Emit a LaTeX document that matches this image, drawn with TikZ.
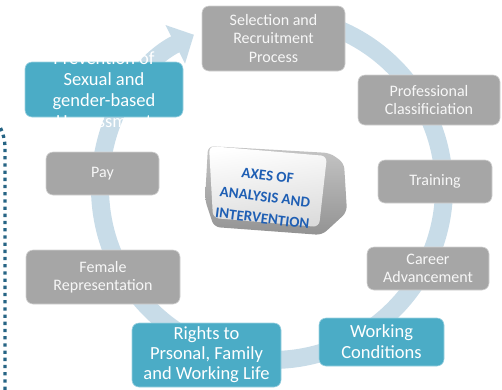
\documentclass[tikz,border=0pt]{standalone}
\usepackage{fontspec}
\setmainfont{Carlito}
\usetikzlibrary{arrows.meta,calc}
\definecolor{boxgray}{RGB}{166,166,166}
\definecolor{boxblue}{RGB}{75,172,198}
\definecolor{ringblue}{RGB}{200,220,232}
\definecolor{keyblue}{RGB}{31,95,180}
\definecolor{dotblue}{RGB}{38,100,132}
\begin{document}
\begin{tikzpicture}[x=1pt,y=-1pt,
  graybox/.style={fill=boxgray, draw=gray!35, line width=0.6pt, rounded corners=7pt,
    text=white!94!gray, align=center, inner sep=0pt,
    font=\fontsize{16}{18.5}\selectfont},
  bluebox/.style={fill=boxblue, draw=boxblue!55!white, line width=0.6pt, rounded corners=7pt,
    text=white, align=center, inner sep=0pt,
    font=\fontsize{18.5}{21}\selectfont},
  ring/.style={draw=ringblue, line width=18pt,
    -{Triangle[width=42pt,length=21pt]}},
  dotline/.style={draw=dotblue, line width=3.3pt, dash pattern=on 3.3pt off 3.9pt},
  keytext/.style={text=keyblue, align=center, font=\bfseries\fontsize{15}{21.5}\selectfont}
]
\useasboundingbox (0,0) rectangle (502,389);

% ring
\coordinate (c) at (272,188);
\draw[ring] ([shift={(-95:172)}]c) arc[start angle=-95, end angle=243, radius=172];

% dotted line
\coordinate (d1) at (0.5,128);
\coordinate (d2) at (5,148);
\coordinate (d3) at (5,392);
\draw[dotline] (d1) .. controls (3,133) and (5,140) .. (d2) -- (d3);

% boxes
\node[graybox, minimum width=143pt, minimum height=65pt] (sel) at (273.5,38.5)
  {Selection and\\Recruitment\\Process};
\node[graybox, minimum width=142pt, minimum height=50pt] (prof) at (429,100)
  {Professional\\Classificiation};
\node[graybox, minimum width=114pt, minimum height=43pt] (train) at (435,181.5)
  {Training};
\node[graybox, minimum width=122pt, minimum height=43pt] (career) at (428,268.5)
  {Career\\Advancement};
\node[bluebox, minimum width=125pt, minimum height=48pt] (work) at (381.5,342)
  {Working\\Conditions};
\node[bluebox, minimum width=149pt, minimum height=64pt,
  font=\fontsize{18.5}{20}\selectfont] (rights) at (206.5,355)
  {Rights to\\Prsonal, Family\\and Working Life};
\node[graybox, minimum width=154pt, minimum height=54pt] (fem) at (103,277)
  {Female\\Representation};
\node[graybox, minimum width=113pt, minimum height=43pt] (pay) at (102.5,173.5)
  {Pay};
\node[bluebox, minimum width=158pt, minimum height=55pt] (prev) at (104,89.5) {};
\node[text=white, align=center, inner sep=0pt, font=\fontsize{18.5}{21}\selectfont]
  (prevtext) at (prev.center)
  {Prevention of\\Sexual and\\gender-based\\Harrassment};

% central key
\path[rounded corners=6pt, top color=gray!45, bottom color=gray!85]
  (208,146) -- (330,153) -- (344,163) -- (347,212) -- (322,235) -- (214,227) -- (205,200) -- cycle;
\path[rounded corners=6pt, top color=white, bottom color=gray!28, shading angle=8]
  (209,146) -- (327,156) -- (319,227) -- (213,218) -- cycle;
\node[keytext, rotate=-7] (axes) at (265,197) {AXES OF\\ANALYSIS AND\\INTERVENTION};
\end{tikzpicture}
\end{document}
